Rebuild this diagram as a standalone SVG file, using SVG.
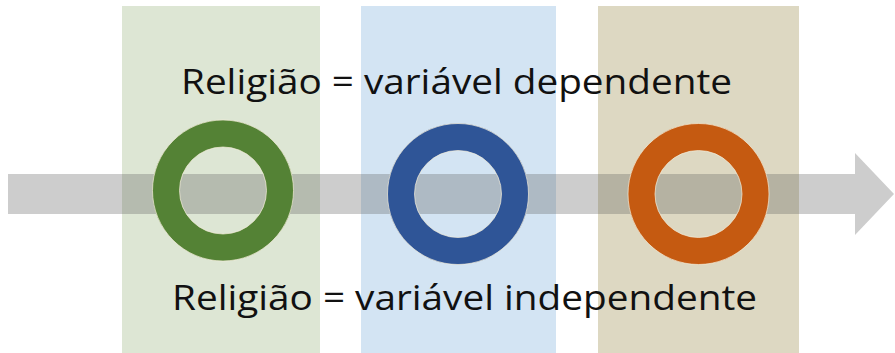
<svg xmlns="http://www.w3.org/2000/svg" width="895" height="353" viewBox="0 0 895 353">
<style>
.lbl{font-family:"Open Sans","Noto Sans","Liberation Sans",sans-serif;font-size:34px;fill:#111}
.ring{fill:none;stroke-width:27}
.edge{fill:none;stroke:#f4ecd8;stroke-width:1;stroke-opacity:0.7}
</style>
<rect width="895" height="353" fill="#fff"/>
<g id="band-green"><rect x="122" y="6" width="198" height="347" fill="#dde6d4"/></g>
<g id="band-blue"><rect x="361" y="6" width="195" height="347" fill="#d3e4f3"/></g>
<g id="band-tan"><rect x="598" y="6" width="201" height="347" fill="#ddd8c2"/></g>
<g id="connectors">
<path d="M8,174 H855 V153 L894,194 L855,235 V214 H8 Z" fill="#595959" fill-opacity="0.3"/>
</g>
<g id="node-green"><circle cx="223" cy="190.5" r="57" class="ring" stroke="#548235"/><circle cx="223" cy="190.5" r="70.5" class="edge"/><circle cx="223" cy="190.5" r="43.5" class="edge"/></g>
<g id="node-blue"><circle cx="458" cy="194" r="57" class="ring" stroke="#2f5597"/><circle cx="458" cy="194" r="70.5" class="edge"/><circle cx="458" cy="194" r="43.5" class="edge"/></g>
<g id="node-orange"><circle cx="698.5" cy="194" r="57" class="ring" stroke="#c55a11"/><circle cx="698.5" cy="194" r="70.5" class="edge"/><circle cx="698.5" cy="194" r="43.5" class="edge"/></g>
<g id="label-top"><text class="lbl" x="181" y="94" textLength="551" lengthAdjust="spacingAndGlyphs">Religião = variável dependente</text></g>
<g id="label-bottom"><text class="lbl" x="172" y="310" textLength="585" lengthAdjust="spacingAndGlyphs">Religião = variável independente</text></g>
</svg>
